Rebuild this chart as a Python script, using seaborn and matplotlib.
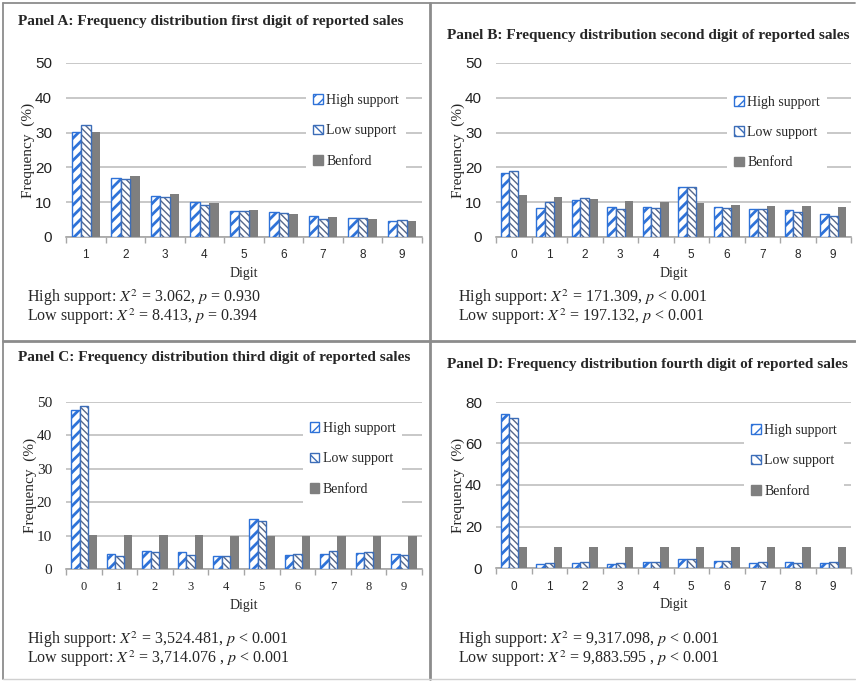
import numpy as np
import pandas as pd
import matplotlib
matplotlib.use("Agg")
import matplotlib.pyplot as plt
import seaborn as sns
from matplotlib.patches import Patch, Rectangle
from matplotlib.lines import Line2D

sns.set_theme(style="white")
plt.rcParams['font.family'] = ['Liberation Serif', 'DejaVu Serif']
plt.rcParams['mathtext.fontset'] = 'stix'
plt.rcParams['hatch.linewidth'] = 1.0

# data
series = ["High support", "Low support", "Benford"]

digits_a = ["1", "2", "3", "4", "5", "6", "7", "8", "9"]
high_a = [30.3, 17.0, 11.8, 10.1, 7.5, 7.3, 5.9, 5.4, 4.6]
low_a = [32.1, 16.7, 11.5, 9.1, 7.6, 7.0, 5.3, 5.4, 4.9]
benf_a = [30.1, 17.6, 12.5, 9.7, 7.9, 6.7, 5.8, 5.1, 4.6]

digits_b = ["0", "1", "2", "3", "4", "5", "6", "7", "8", "9"]
high_b = [18.5, 8.3, 10.5, 8.7, 8.7, 14.3, 8.5, 8.0, 7.7, 6.7]
low_b = [19.0, 10.2, 11.1, 8.0, 8.2, 14.3, 8.3, 8.0, 7.1, 5.9]
benf_b = [12.0, 11.4, 10.9, 10.4, 10.0, 9.7, 9.3, 9.0, 8.8, 8.5]

digits_c = digits_b
high_c = [47.5, 4.5, 5.4, 5.0, 4.0, 15.1, 4.1, 4.5, 4.8, 4.5]
low_c = [48.7, 3.9, 5.1, 4.3, 4.0, 14.3, 4.6, 5.4, 5.1, 4.2]
benf_c = [10.2, 10.1, 10.1, 10.1, 10.0, 10.0, 9.9, 9.9, 9.9, 9.8]

digits_d = digits_b
high_d = [74.0, 2.1, 2.5, 2.0, 2.8, 4.2, 3.4, 2.4, 3.0, 2.6]
low_d = [72.3, 2.5, 2.9, 2.6, 2.9, 4.3, 3.4, 2.9, 2.6, 2.7]
benf_d = [10.0, 10.0, 10.0, 10.0, 10.0, 10.0, 10.0, 10.0, 10.0, 10.0]

titles = ["Panel A: Frequency distribution first digit of reported sales",
          "Panel B: Frequency distribution second digit of reported sales",
          "Panel C: Frequency distribution third digit of reported sales",
          "Panel D: Frequency distribution fourth digit of reported sales"]

stats = [("High support: $X^2$ = 3.062, $p$ = 0.930",
          "Low support: $X^2$ = 8.413, $p$ = 0.394"),
         ("High support: $X^2$ = 171.309, $p$ < 0.001",
          "Low support: $X^2$ = 197.132, $p$ < 0.001"),
         ("High support: $X^2$ = 3,524.481, $p$ < 0.001",
          "Low support: $X^2$ = 3,714.076 , $p$ < 0.001"),
         ("High support: $X^2$ = 9,317.098, $p$ < 0.001",
          "Low support: $X^2$ = 9,883.595 , $p$ < 0.001")]

W, H = 856, 681
fig = plt.figure(figsize=(W / 100, H / 100), dpi=100)
fig.patch.set_facecolor("white")


def fx(x):
    return x / W


def fy(y):
    return 1 - y / H


def hatch_lw(p, w):
    if hasattr(p, "set_hatch_linewidth"):
        p.set_hatch_linewidth(w)


high_col = "#2E72D8"
low_edge = "#3C6DB8"
low_hatch = "#56678A"
benf_col = "#7F7F7F"

# (left, top, right, bottom) in pixels, ymax, yticks, legend anchor, tick font
panels = [
    (digits_a, high_a, low_a, benf_a, (66, 63, 422, 237), 50, [0, 10, 20, 30, 40, 50], (0.655, 0.61), "Liberation Sans"),
    (digits_b, high_b, low_b, benf_b, (496, 63, 851, 237), 50, [0, 10, 20, 30, 40, 50], (0.632, 0.60), "Liberation Sans"),
    (digits_c, high_c, low_c, benf_c, (66, 402, 422, 569), 50, [0, 10, 20, 30, 40, 50], (0.645, 0.66), "Liberation Serif"),
    (digits_d, high_d, low_d, benf_d, (496, 402, 851, 568), 80, [0, 20, 40, 60, 80], (0.68, 0.645), "Liberation Sans"),
]

title_pos = [(18, 22), (447, 36), (18, 358), (447, 365)]
stat_pos = [(27, 298), (458, 298), (27, 640), (458, 640)]

for i, (digs, hi, lo, be, box, ymax, yt, leg_anchor, tfont) in enumerate(panels):
    l, t, r, b = box
    ax = fig.add_axes([fx(l), fy(b), fx(r - l), (b - t) / H])
    df = pd.DataFrame({
        "digit": digs * 3,
        "freq": hi + lo + be,
        "series": [series[0]] * len(digs) + [series[1]] * len(digs) + [series[2]] * len(digs),
    })
    sns.barplot(data=df, x="digit", y="freq", hue="series", hue_order=series, order=digs,
                palette=["white", "white", benf_col], saturation=1, width=0.72,
                legend=False, ax=ax, zorder=3)
    for bar in ax.containers[0]:
        bar.set_facecolor("white")
        bar.set_edgecolor(high_col)
        bar.set_hatch("///")
        hatch_lw(bar, 2.0)
        bar.set_linewidth(1.0)
    for bar in ax.containers[1]:
        bar.set_facecolor("white")
        bar.set_edgecolor(low_hatch)
        bar.set_hatch("\\\\\\\\\\")
        hatch_lw(bar, 1.0)
        bar.set_linewidth(0)
        ax.add_patch(Rectangle(bar.get_xy(), bar.get_width(), bar.get_height(),
                               fill=False, edgecolor=low_edge, lw=1.0, zorder=4))
    for bar in ax.containers[2]:
        bar.set_facecolor(benf_col)
        bar.set_edgecolor(benf_col)
        bar.set_linewidth(0)

    n = len(digs)
    ax.set_xlim(-0.5, n - 0.5)
    ax.set_ylim(0, ymax)
    ax.set_yticks(yt)
    ax.yaxis.grid(True, color="#BFBFBF", lw=1.2, zorder=0)
    ax.set_axisbelow(True)
    for s in ["left", "right", "top"]:
        ax.spines[s].set_visible(False)
    ax.spines["bottom"].set_color("#A6A6A6")
    ax.spines["bottom"].set_linewidth(1.2)
    ax.set_xticks(np.arange(-0.5, n, 1.0), minor=True)
    ax.tick_params(axis="x", which="minor", length=4, color="#A6A6A6", width=1, direction="out", bottom=True)
    ax.tick_params(axis="x", which="major", length=0, pad=9)
    ax.tick_params(axis="y", length=0, pad=10)
    for lab in ax.get_xticklabels():
        lab.set_fontfamily(tfont)
        lab.set_fontsize(8.5 if tfont == "Liberation Sans" else 9)
    for lab in ax.get_yticklabels():
        lab.set_fontfamily(tfont)
        lab.set_fontsize(11)
        lab.set_color("#222222")
    ax.set_xlabel("Digit", fontsize=10, labelpad=4)
    ax.set_ylabel("Frequency  (%)", fontsize=11, labelpad=0)

    ph = Patch(facecolor="white", edgecolor=high_col, hatch="///")
    pl = Patch(facecolor="white", edgecolor=low_edge, hatch="\\\\\\")
    handles = [ph, pl, Patch(facecolor=benf_col, edgecolor=benf_col)]
    leg = ax.legend(handles, series, loc="center left", bbox_to_anchor=leg_anchor,
                    frameon=True, fontsize=10, handlelength=0.7, handleheight=0.7,
                    handletextpad=0.25, labelspacing=1.25, borderpad=0.5,
                    facecolor="white", edgecolor="white", framealpha=1, fancybox=False)
    leg.get_frame().set_linewidth(0)
    leg.set_zorder(5)

    tx, ty = title_pos[i]
    fig.text(fx(tx), fy(ty), titles[i], fontsize=11, fontweight="bold", va="center", ha="left")
    sx, sy = stat_pos[i]
    fig.text(fx(sx), fy(sy), stats[i][0], fontsize=11.5, va="center", ha="left")
    fig.text(fx(sx), fy(sy + 19), stats[i][1], fontsize=11.5, va="center", ha="left")

# panel frames
fr = "#8C8C8C"
fig.add_artist(Line2D([fx(3), fx(3)], [fy(3), fy(679)], color=fr, lw=1.3))
fig.add_artist(Line2D([fx(3), fx(855)], [fy(3), fy(3)], color=fr, lw=1.3))
fig.add_artist(Line2D([fx(430), fx(430)], [fy(3), fy(679)], color=fr, lw=2.0))
fig.add_artist(Line2D([fx(3), fx(855)], [fy(341), fy(341)], color=fr, lw=2.0))
fig.add_artist(Line2D([fx(3), fx(855)], [fy(679), fy(679)], color="#D0D0D0", lw=1.0))

fig.savefig("out.png", dpi=100, facecolor="white")
